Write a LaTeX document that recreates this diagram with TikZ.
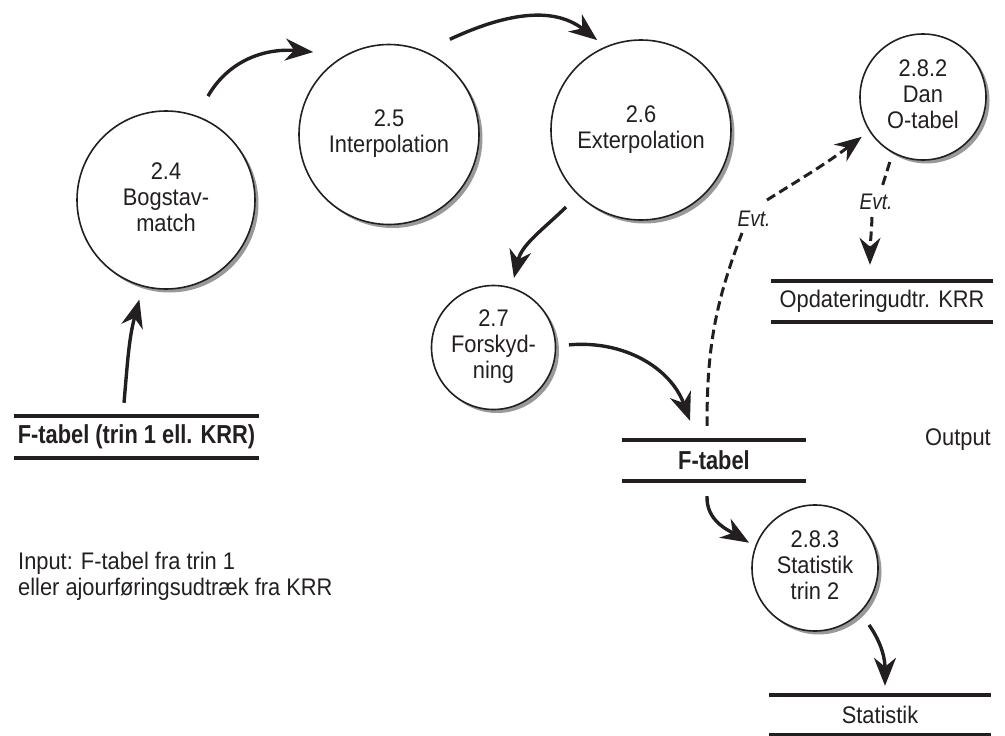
\documentclass[tikz,border=0pt]{standalone}
\usepackage{fontspec}
\setmainfont{Liberation Sans}[FakeStretch=0.91]
\newfontfamily\condbold{Liberation Sans}[FakeStretch=0.84]
\newfontfamily\condit{Liberation Sans}[FakeStretch=0.85]
\usetikzlibrary{arrows.meta,shadows,calc}
\definecolor{ink}{RGB}{35,31,32}
% centred lines of a process bubble, lifted by #1
\newcommand\bubbletext[2]{\raisebox{#1}{\begin{tabular}{@{}c@{}}#2\end{tabular}}}
\begin{document}
\begin{tikzpicture}[x=1pt,y=-1pt,
  every node/.style={font=\fontsize{24}{26}\selectfont, text=ink},
  proc/.style={circle, draw=ink, line width=1.6pt, fill=white, inner sep=0pt,
    drop shadow={shadow xshift=3.5pt, shadow yshift=-3.5pt, fill=black!40, opacity=1}},
  store/.style={inner sep=0pt, align=center},
  boldtxt/.style={font=\fontsize{26}{30}\selectfont\condbold\bfseries},
  storeline/.style={draw=ink, line width=4.3pt},
  flow/.style={draw=ink, line width=3.4pt, -{Stealth[length=28pt,width=22pt,inset=9pt]}},
  dline/.style={draw=ink, line width=3pt, dash pattern=on 9.5pt off 5pt},
  dflow/.style={dline, -{Stealth[length=27pt,width=21pt,inset=9pt]}},
  evt/.style={font=\fontsize{22.5}{26}\selectfont\condit\itshape, inner sep=0pt}
]
\useasboundingbox (0,0) rectangle (1005,736);

% processes
\node[proc, minimum size=178pt] (c24) at (166,200)
  {\bubbletext{3pt}{2.4\\Bogstav-\\match}};
\node[proc, minimum size=180pt] (c25) at (389,134.5)
  {\bubbletext{1pt}{2.5\\Interpolation}};
\node[proc, minimum size=180pt] (c26) at (641,130)
  {\bubbletext{3.5pt}{2.6\\Exterpolation}};
\node[proc, minimum size=124pt] (c27) at (493.5,347.5)
  {\bubbletext{-3pt}{2.7\\Forskyd-\\ning}};
\node[proc, minimum size=126pt] (c282) at (923,97)
  {\bubbletext{3pt}{2.8.2\\Dan\\O-tabel}};
\node[proc, minimum size=126pt] (c283) at (815,568)
  {\bubbletext{-3pt}{2.8.3\\Statistik\\trin 2}};

% data stores
\node[store, boldtxt, minimum width=245pt, minimum height=42pt] (s1) at (136.5,437)
  {F-tabel (trin 1 ell. KRR)};
\node[store, boldtxt, minimum width=184pt, minimum height=41pt] (s2) at (714,460.5)
  {F-tabel};
\node[store, minimum width=222pt, minimum height=41pt] (s3) at (882,301.5)
  {Opdateringudtr. KRR};
\node[store, minimum width=222pt, minimum height=40pt] (s4) at (880,715)
  {Statistik};
\foreach \s in {s1,s2,s3,s4}{
  \draw[storeline] (\s.north west) -- (\s.north east);
  \draw[storeline] (\s.south west) -- (\s.south east);
}

% free texts
\node[anchor=west, align=left, inner sep=0pt] (inp) at (18,576)
  {Input: F-tabel fra trin 1\\eller ajourføringsudtræk fra KRR};
\node (outlbl) at (958,440) {Output};

% flows
\draw[flow] ([xshift=-12.5pt,yshift=13pt]s1.north) to[out=85,in=255]
  ($(c24.center)+(255:103pt)$);
\draw[flow] ($(c24.center)+(68:112pt)$) to[out=60,in=175]
  ($(c25.center)+(132.6:112pt)$);
\draw[flow] ($(c25.center)+(57.4:113pt)$) to[out=25,in=142]
  ($(c26.center)+(116:100pt)$);
\draw[flow] ($(c26.center)+(225.8:107.5pt)$) to[out=224,in=77]
  ($(c27.center)+(73.6:72.5pt)$);
\draw[flow] ($(c27.center)+(2:75.5pt)$) to[out=5,in=110]
  ([xshift=-24pt,yshift=19pt]s2.north);
\draw[flow] ([xshift=-7pt,yshift=-15pt]s2.south) to[out=268,in=149]
  ($(c283.center)+(159:70.6pt)$);
\draw[flow] ($(c283.center)+(-46.5:78.5pt)$) to[out=-55,in=90]
  ([xshift=5pt,yshift=9pt]s4.north);

% optional flows
\node[evt] (e1) at (754,219) {Evt.};
\draw[dline] ([xshift=-7pt,yshift=14pt]s2.north) to[out=90,in=249]
  ([xshift=-12pt,yshift=-14pt]e1.center);
\draw[dflow] ([xshift=13pt,yshift=19pt]e1.center) to[out=32,in=217]
  ($(c282.center)+(213:73pt)$);

\node[evt] (e2) at (876,202) {Evt.};
\draw[dline] ($(c282.center)+(243:73pt)$) to[out=252,in=72]
  ([xshift=6pt,yshift=15pt]e2.center);
\draw[dflow] ([xshift=-4pt,yshift=-15pt]e2.center) to[out=268,in=90]
  ([xshift=-12pt,yshift=16pt]s3.north);
\end{tikzpicture}
\end{document}
